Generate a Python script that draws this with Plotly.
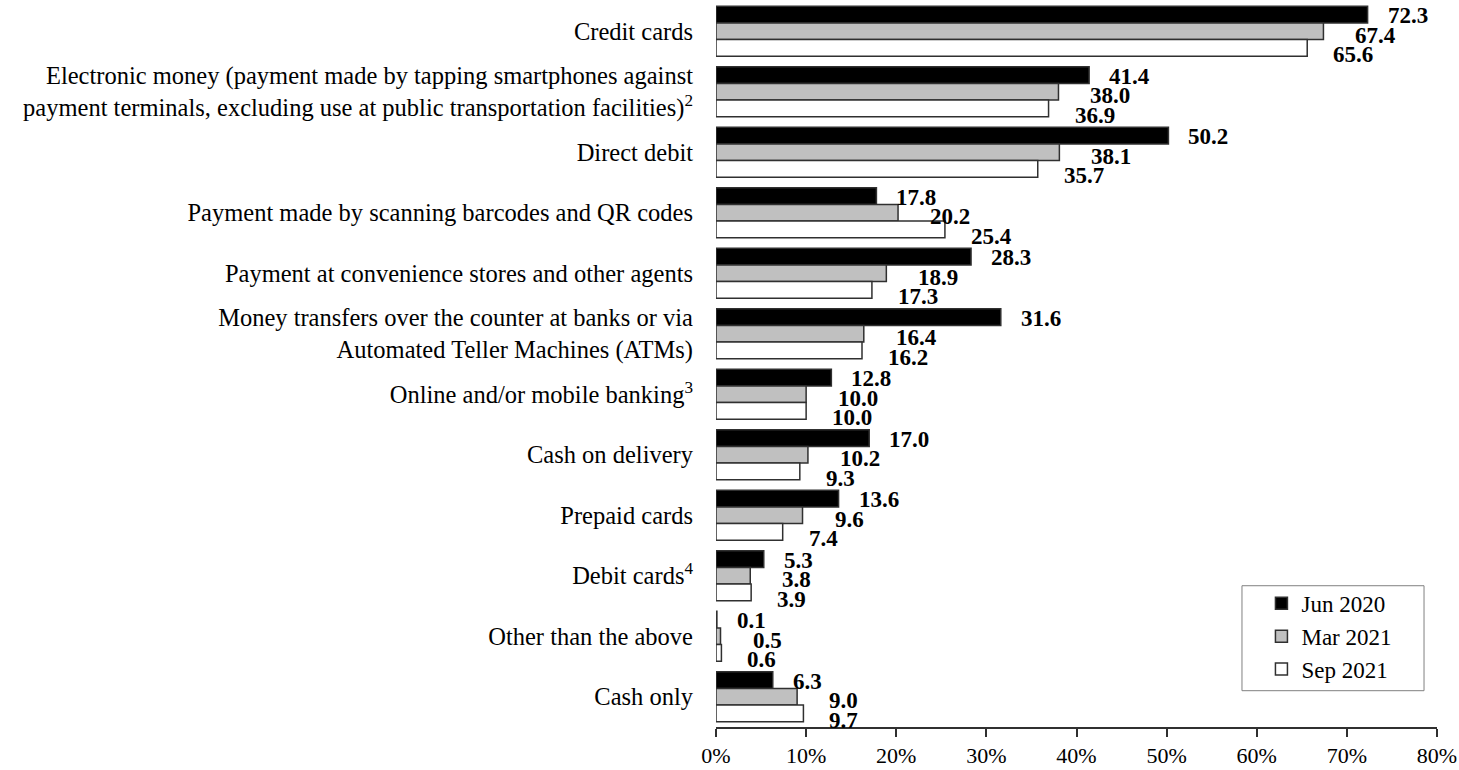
import plotly.graph_objects as go

# Payment methods (top to bottom) and the share of respondents using each
categories = [
    "Credit cards",
    "Electronic money (payment made by tapping smartphones against<br>"
    "payment terminals, excluding use at public transportation facilities)<sup>2</sup>",
    "Direct debit",
    "Payment made by scanning barcodes and QR codes",
    "Payment at convenience stores and other agents",
    "Money transfers over the counter at banks or via<br>Automated Teller Machines (ATMs)",
    "Online and/or mobile banking<sup>3</sup>",
    "Cash on delivery",
    "Prepaid cards",
    "Debit cards<sup>4</sup>",
    "Other than the above",
    "Cash only",
]

series_names = ["Jun 2020", "Mar 2021", "Sep 2021"]

jun_2020 = [72.3, 41.4, 50.2, 17.8, 28.3, 31.6, 12.8, 17.0, 13.6, 5.3, 0.1, 6.3]
mar_2021 = [67.4, 38.0, 38.1, 20.2, 18.9, 16.4, 10.0, 10.2, 9.6, 3.8, 0.5, 9.0]
sep_2021 = [65.6, 36.9, 35.7, 25.4, 17.3, 16.2, 10.0, 9.3, 7.4, 3.9, 0.6, 9.7]

x_ticks = [0, 10, 20, 30, 40, 50, 60, 70, 80]

series_values = [jun_2020, mar_2021, sep_2021]
fill_colors = ["#000000", "#c0c0c0", "#ffffff"]

FONT = "Liberation Serif, Times New Roman, serif"
BARGAP = 0.175
n_series = len(series_values)
bar_w = (1 - BARGAP) / n_series

# pixel nudges for the value labels of each series
label_xshift = [18, 30, 24]
label_yshift = [-1, -4, -7]

fig = go.Figure()
for name, vals, color in zip(series_names, series_values, fill_colors):
    fig.add_trace(go.Bar(
        y=list(range(len(categories))),
        x=vals,
        name=name,
        legendgroup=name,
        orientation="h",
        marker=dict(color=color, line=dict(color="#303030", width=1.5)),
        hoverinfo="x+name",
    ))

annotations = []
for i, vals in enumerate(series_values):
    offset = (i - (n_series - 1) / 2) * bar_w
    for j, v in enumerate(vals):
        annotations.append(dict(
            x=v, y=j + offset, xref="x", yref="y",
            text=f"<b>{v:.1f}</b>",
            showarrow=False, xanchor="left", yanchor="middle",
            xshift=label_xshift[i], yshift=label_yshift[i],
            font=dict(family=FONT, size=23, color="#000000"),
        ))

fig.update_layout(
    width=1459, height=770,
    margin=dict(l=716, r=22, t=1, b=43),
    paper_bgcolor="#ffffff", plot_bgcolor="#ffffff",
    barmode="group", bargap=BARGAP, bargroupgap=0,
    font=dict(family=FONT, color="#000000"),
    showlegend=True,
    legend=dict(
        x=0.7565, y=0.2, xanchor="left", yanchor="top",
        bgcolor="rgba(0,0,0,0)", borderwidth=0,
        font=dict(family=FONT, size=23, color="#000000"),
        traceorder="normal", tracegroupgap=5,
    ),
    annotations=annotations,
    shapes=[dict(
        type="rect", xref="paper", yref="paper",
        x0=0.7295, x1=0.982, y0=0.05, y1=0.1946,
        line=dict(color="#808080", width=1), fillcolor="#ffffff", layer="below",
    )],
)

fig.update_xaxes(
    range=[0, 80], tickvals=x_ticks, ticktext=[f"{t}%" for t in x_ticks],
    showgrid=False, zeroline=False,
    showline=True, linecolor="#303030", linewidth=1.5,
    ticks="outside", ticklen=8, tickwidth=1.5, tickcolor="#303030",
    tickfont=dict(family=FONT, size=22, color="#000000"),
)
fig.update_yaxes(
    tickvals=list(range(len(categories))), ticktext=categories,
    range=[len(categories) - 0.5, -0.5],
    showgrid=False, zeroline=False, showline=False, ticks="",
    ticklabelstandoff=22,
    tickfont=dict(family=FONT, size=24.5, color="#000000"),
)

fig.write_html("out.html")
